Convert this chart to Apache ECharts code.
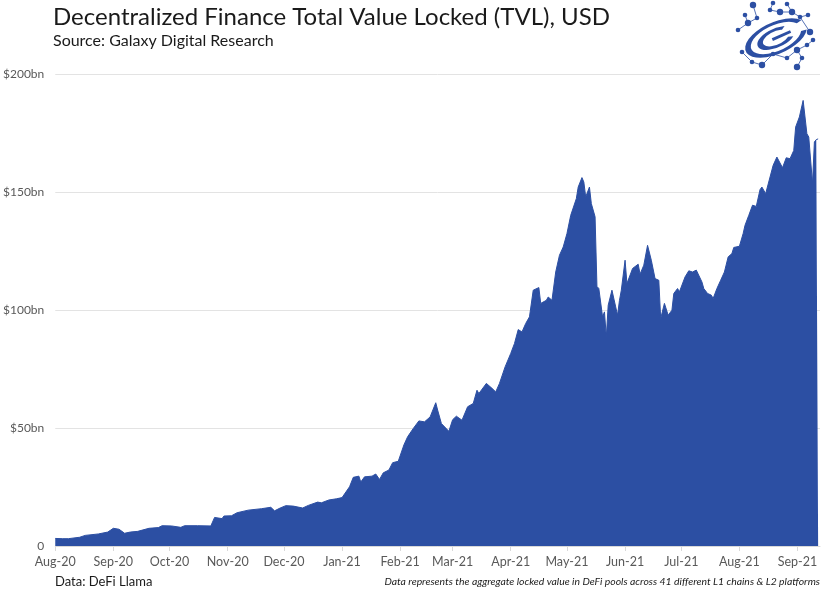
<!DOCTYPE html>
<html><head><meta charset="utf-8">
<script src="https://cdn.jsdelivr.net/npm/echarts@6/dist/echarts.min.js"></script>
<style>html,body{margin:0;padding:0;background:#fff}#c{width:822px;height:590px}</style>
</head><body><div id="c"></div>
<script>
// Daily TVL readings (USD bn)
const dates = [
'2020-08-01','2020-08-05','2020-08-06','2020-08-08','2020-08-14','2020-08-17','2020-08-24','2020-08-29',
'2020-09-01','2020-09-04','2020-09-07','2020-09-10','2020-09-14','2020-09-20','2020-09-25','2020-09-27',
'2020-10-02','2020-10-07','2020-10-09','2020-10-16','2020-10-23','2020-10-25','2020-10-29','2020-10-30',
'2020-11-03','2020-11-06','2020-11-12','2020-11-19','2020-11-24','2020-11-26','2020-11-29',
'2020-12-02','2020-12-06','2020-12-11','2020-12-14','2020-12-19','2020-12-21','2020-12-25','2020-12-29',
'2021-01-01','2021-01-05','2021-01-07','2021-01-10','2021-01-11','2021-01-13','2021-01-17','2021-01-19','2021-01-21','2021-01-23','2021-01-26','2021-01-28','2021-01-31',
'2021-02-03','2021-02-05','2021-02-08','2021-02-11','2021-02-14','2021-02-17','2021-02-20','2021-02-21','2021-02-23','2021-02-24','2021-02-27',
'2021-03-01','2021-03-03','2021-03-06','2021-03-09','2021-03-12','2021-03-14','2021-03-15','2021-03-19','2021-03-22','2021-03-24','2021-03-26','2021-03-29',
'2021-04-01','2021-04-03','2021-04-05','2021-04-07','2021-04-09','2021-04-11','2021-04-13','2021-04-16','2021-04-17','2021-04-20','2021-04-21','2021-04-23','2021-04-25','2021-04-27','2021-04-29',
'2021-05-01','2021-05-03','2021-05-06','2021-05-07','2021-05-09','2021-05-10','2021-05-11','2021-05-13','2021-05-14','2021-05-16','2021-05-17','2021-05-18','2021-05-20','2021-05-21','2021-05-22','2021-05-23','2021-05-25','2021-05-27','2021-05-28','2021-05-29','2021-05-30',
'2021-06-01','2021-06-02','2021-06-05','2021-06-06','2021-06-08','2021-06-09','2021-06-11','2021-06-13','2021-06-15','2021-06-17','2021-06-19','2021-06-20','2021-06-22','2021-06-24','2021-06-26','2021-06-27','2021-06-29','2021-06-30',
'2021-07-03','2021-07-05','2021-07-07','2021-07-09','2021-07-12','2021-07-13','2021-07-15','2021-07-17','2021-07-18','2021-07-20','2021-07-22','2021-07-24','2021-07-26','2021-07-28','2021-07-29',
'2021-08-01','2021-08-03','2021-08-04','2021-08-06','2021-08-08','2021-08-10','2021-08-12','2021-08-13','2021-08-15','2021-08-19','2021-08-21','2021-08-24','2021-08-26','2021-08-28','2021-08-30','2021-08-31',
'2021-09-02','2021-09-04','2021-09-05','2021-09-06','2021-09-07','2021-09-09','2021-09-10','2021-09-11','2021-09-12'
];
const tvl = [
3.2,3.1,2.5,3.1,3.7,4.5,5.1,5.9,
7.5,7.1,5.4,5.9,6.2,7.5,7.8,8.6,
8.5,7.9,8.6,8.6,8.5,12.1,11.6,12.7,
12.8,14.1,15.2,15.8,16.4,14.9,16.1,
17.1,16.9,16.1,17.2,18.6,18.3,19.5,20.0,
20.5,25.1,29.1,29.6,27.1,29.3,29.6,30.5,28.2,31.0,32.2,35.3,35.9,
42.8,46.3,49.8,53.0,52.6,54.7,60.7,57.6,51.9,52.6,48.6,
53.5,55.0,53.3,59.0,60.4,66.0,64.6,68.9,66.8,65.3,68.9,75.9,
81.6,85.8,91.7,90.7,94.3,97.1,108.4,109.5,102.8,104.1,105.5,104.1,116.1,123.2,126.7,
132.4,140.1,147.2,152.1,156.1,154.2,147.9,152.1,145.1,139.5,110.0,109.1,97.1,99.2,88.6,102.0,108.4,101.3,97.8,104.0,108.4,
121.1,111.2,117.6,116.9,119.4,115.2,119.0,127.4,121.1,113.3,112.6,96.4,102.8,97.8,99.9,107.0,109.1,107.7,
114.0,116.6,116.1,116.9,111.9,109.1,107.0,106.3,104.9,109.1,112.6,116.1,122.5,123.9,126.5,
127.0,132.4,135.9,140.1,144.4,143.9,151.0,152.1,149.3,161.3,164.8,160.3,164.5,164.1,167.6,177.5,
181.8,188.8,181.8,174.7,173.3,153.6,171.2,172.2,172.5
];
const monthTicks = ['2020-08-01','2020-09-01','2020-10-01','2020-11-01','2020-12-01','2021-01-01','2021-02-01','2021-03-01','2021-04-01','2021-05-01','2021-06-01','2021-07-01','2021-08-01','2021-09-01'];
const monthLabels = ['Aug-20','Sep-20','Oct-20','Nov-20','Dec-20','Jan-21','Feb-21','Mar-21','Apr-21','May-21','Jun-21','Jul-21','Aug-21','Sep-21'];
const yTicks = [0,50,100,150,200];
const yLabels = ['0','$50bn','$100bn','$150bn','$200bn'];
const axisEnd = '2021-09-13';

const DAY = 86400000;
const ts = s => { const [y,m,d] = s.split('-').map(Number); return Date.UTC(y, m-1, d); };
const t0 = ts(dates[0]);
const dayOf = s => Math.round((ts(s) - t0) / DAY);
const tickDays = monthTicks.map(dayOf);
const seriesData = dates.map((d,i) => [dayOf(d), tvl[i]]);
const BLUE = '#2c4fa3';
const FONT = 'Lato, "Open Sans", sans-serif';

// logo nodes (decorative)
const nodes = [[753,5],[773,3],[787,4],[792,12],[800,17],[808,15],[810,32],[745,15],[738,30],[748,23],[757,18],[770,10],[780,12],[742,52],[752,62],[762,65],[773,54],[787,58],[797,50],[807,45],[802,58],[797,67],[813,40]];
const links = [[0,10],[1,11],[2,3],[3,12],[3,4],[4,5],[4,6],[7,9],[8,9],[9,10],[13,14],[14,15],[15,16],[16,17],[17,18],[18,19],[19,22],[18,20],[20,21],[11,12]];
const logo = [];
links.forEach(([a,b]) => logo.push({type:'line', shape:{x1:nodes[a][0],y1:nodes[a][1],x2:nodes[b][0],y2:nodes[b][1]}, style:{stroke:BLUE, lineWidth:1, opacity:0.8}, silent:true}));
nodes.forEach((n,i) => logo.push({type:'circle', shape:{cx:n[0], cy:n[1], r: (i%3===0)?3.2:2.3}, style:{fill:BLUE}, silent:true}));
logo.push({type:'group', x:776, y:38, rotation:0.42, scaleY:0.48, silent:true, children:[
  {type:'arc', shape:{cx:0,cy:0,r:30,startAngle:0.3,endAngle:5.9}, style:{stroke:BLUE, lineWidth:6, fill:null}},
  {type:'arc', shape:{cx:0,cy:0,r:17,startAngle:0.6,endAngle:5.4}, style:{stroke:BLUE, lineWidth:6, fill:null}},
  {type:'line', shape:{x1:-4,y1:0,x2:16,y2:0}, style:{stroke:BLUE, lineWidth:6}}
]});

const chart = echarts.init(document.getElementById('c'), null, {renderer:'canvas'});
chart.setOption({
  animation:false,
  backgroundColor:'#ffffff',
  grid:{left:51, right:2, top:74, bottom:44, containLabel:false},
  xAxis:{
    type:'value', min: 0, max: dayOf(axisEnd),
    axisLine:{show:true, lineStyle:{color:'#d9d9d9', width:1}},
    axisTick:{show:true, length:5, lineStyle:{color:'#d9d9d9'}, customValues: tickDays},
    axisLabel:{
      customValues: tickDays, margin:9, color:'#595959', fontFamily:FONT, fontSize:12.5, hideOverlap:false,
      showMinLabel:true, showMaxLabel:true,
      formatter: v => { const i = tickDays.indexOf(Math.round(v)); return i >= 0 ? monthLabels[i] : ''; }
    },
    splitLine:{show:false}
  },
  yAxis:{
    type:'value', min:yTicks[0], max:yTicks[yTicks.length-1], interval:50,
    axisLine:{show:false}, axisTick:{show:false},
    axisLabel:{margin:11, color:'#595959', fontFamily:FONT, fontSize:12,
      formatter: v => { const i = yTicks.indexOf(v); return i >= 0 ? yLabels[i] : ''; }},
    splitLine:{show:true, lineStyle:{color:'#e3e3e3', width:1}}
  },
  series:[{
    type:'line', data: seriesData, showSymbol:false, smooth:false,
    lineStyle:{color:BLUE, width:1}, areaStyle:{color:BLUE, opacity:1}
  }],
  graphic:[
    {type:'text', left:53, top:5, style:{text:'Decentralized Finance Total Value Locked (TVL), USD', font:'24px '+FONT, fill:'#1a1a1a'}},
    {type:'text', left:53, top:33, style:{text:'Source: Galaxy Digital Research', font:'16px '+FONT, fill:'#1a1a1a'}},
    {type:'text', left:55, top:575, style:{text:'Data: DeFi Llama', font:'13px '+FONT, fill:'#1a1a1a'}},
    {type:'text', right:2, top:577, style:{text:'Data represents the aggregate locked value in DeFi pools across 41 different L1 chains & L2 platforms', font:'italic 10.4px '+FONT, fill:'#1a1a1a'}},
    ...logo
  ]
});
</script></body></html>
